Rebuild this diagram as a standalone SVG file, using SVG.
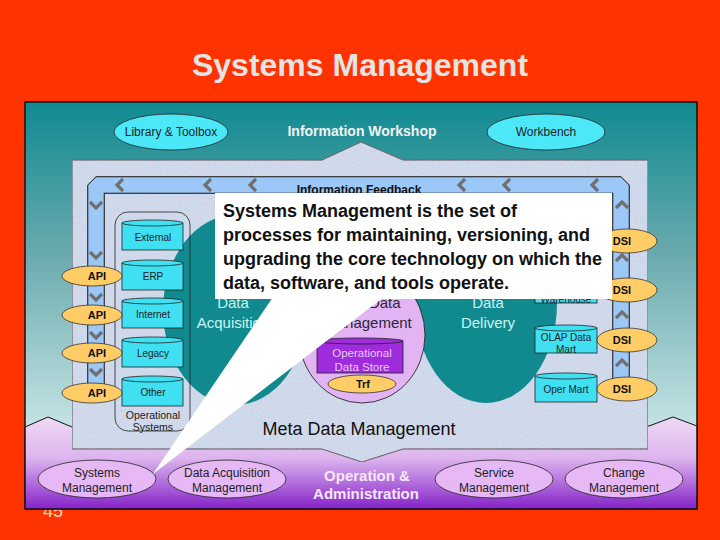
<svg xmlns="http://www.w3.org/2000/svg" width="720" height="540" viewBox="0 0 720 540">
<defs>
<linearGradient id="gTeal" x1="0" y1="102" x2="0" y2="440" gradientUnits="userSpaceOnUse">
<stop offset="0" stop-color="#0F8A91"/><stop offset="0.45" stop-color="#6AAAAE"/><stop offset="1" stop-color="#CBE8E8"/>
</linearGradient>
<linearGradient id="gPurple" x1="0" y1="417" x2="0" y2="509" gradientUnits="userSpaceOnUse">
<stop offset="0" stop-color="#EEDAF4"/><stop offset="0.45" stop-color="#DDB4EE"/><stop offset="1" stop-color="#8422C8"/>
</linearGradient>
<filter id="tex" x="0" y="0" width="100%" height="100%">
<feTurbulence type="fractalNoise" baseFrequency="0.6" numOctaves="2" seed="4" result="n"/>
<feColorMatrix in="n" type="matrix" values="1.2 0 0 0 0.1  0 0.5 0 0 0.35  0 0 0.8 0 0.3  0 0 0 0 0.25" result="c"/>
<feComposite in="c" in2="SourceGraphic" operator="in" result="m"/>
<feMerge><feMergeNode in="SourceGraphic"/><feMergeNode in="m"/></feMerge>
</filter>
<path id="chL" d="M3,-6 L-3,0 L3,6"/>
<path id="chD" d="M-6,-3 L0,3 L6,-3"/>
<path id="chU" d="M-6,3 L0,-3 L6,3"/>
</defs>
<style>
.t{font-family:"Liberation Sans",Arial,sans-serif;text-anchor:middle}
.cyl{fill:#3EE0F2;stroke:#222;stroke-width:0.8}
.orange{fill:#FFCC66;stroke:#333;stroke-width:0.8}
.lav{fill:#E6B8F6;stroke:#222;stroke-width:0.8}
.chev{fill:none;stroke:#707070;stroke-width:3.2}
.small{font-size:10px;fill:#222}
.bold11{font-size:11px;font-weight:bold;fill:#111}
.ell12{font-size:12px;fill:#222}
.big{font-size:15px;fill:#C8F4F4}
</style>
<rect x="0" y="0" width="720" height="540" fill="#FF3300"/>
<text class="t" x="53" y="517" font-size="18" fill="#FFD8BC">45</text>
<text class="t" x="360" y="76" font-size="32" font-weight="bold" fill="#E4E4E4">Systems Management</text>

<g id="panel">
<rect x="25" y="102" width="672" height="407" fill="url(#gTeal)" stroke="#111" stroke-width="1"/>
<polygon points="25,427 48,417 72,427 649,426 673,417 697,426 697,509 25,509" fill="url(#gPurple)" stroke="#111" stroke-width="1"/>
<rect x="25" y="102" width="672" height="407" fill="none" stroke="#111" stroke-width="1"/>
<polygon points="72,160 322,160 361,142 403,160 648,160 648,449 403,449 362,462 322,449 72,449" fill="#CCDDF0" stroke="#111" stroke-width="1" filter="url(#tex)"/>
</g>

<g id="feedback">
<path d="M96,400 V185 H621 V390" fill="none" stroke="#111" stroke-width="17.5" stroke-linejoin="bevel"/>
<path d="M96,401 V185 H621 V391" fill="none" stroke="#9CC8F8" stroke-width="15.5" stroke-linejoin="bevel"/>
<g class="chev">
<use href="#chL" x="120" y="185"/><use href="#chL" x="208" y="185"/><use href="#chL" x="253" y="185"/>
<use href="#chL" x="462" y="185"/><use href="#chL" x="507" y="185"/><use href="#chL" x="595" y="185"/>
<use href="#chD" x="96" y="205"/><use href="#chD" x="96" y="255"/><use href="#chD" x="96" y="297"/><use href="#chD" x="96" y="335"/><use href="#chD" x="96" y="372"/>
<use href="#chU" x="622" y="205"/><use href="#chU" x="622" y="258"/><use href="#chU" x="622" y="315"/><use href="#chU" x="622" y="363"/>
</g>
<text class="t" x="359" y="194" font-size="12" font-weight="bold" fill="#111">Information Feedback</text>
</g>

<g id="data-acquisition">
<ellipse cx="235" cy="310" rx="72" ry="95" fill="#108A8E"/>
<text class="t big" x="233" y="308">Data</text>
<text class="t big" x="233" y="328">Acquisition</text>
</g>
<g id="data-delivery">
<ellipse cx="486" cy="303" rx="71" ry="100" fill="#108A8E"/>
<text class="t big" x="488" y="308">Data</text>
<text class="t big" x="488" y="328">Delivery</text>
</g>
<g id="meta-data-management">
<ellipse cx="362" cy="335" rx="63" ry="68" fill="#E2B4F4" stroke="#111" stroke-width="0.8"/>
<text class="t" x="366" y="308" font-size="15" fill="#2A2A3A">Meta Data</text>
<text class="t" x="368" y="328" font-size="15" fill="#2A2A3A">Management</text>
</g>
<g id="ods">
<rect x="317" y="341" width="86" height="32" fill="#9E2CDC" stroke="#222" stroke-width="0.8"/>
<ellipse cx="360" cy="341" rx="43" ry="3" fill="#9E2CDC" stroke="#222" stroke-width="0.8"/>
<text class="t" x="362" y="357" font-size="11.5" fill="#EAC8FA">Operational</text>
<text class="t" x="362" y="371" font-size="11.5" fill="#EAC8FA">Data Store</text>
</g>
<g id="trf">
<ellipse class="orange" cx="362" cy="384" rx="34" ry="9"/>
<text class="t bold11" x="363" y="388">Trf</text>
</g>

<g id="operational-systems">
<rect x="115" y="212" width="75" height="219" rx="13" fill="none" stroke="#222" stroke-width="0.8"/>
<text class="t" x="153" y="419" font-size="10.5" fill="#222">Operational</text>
<text class="t" x="153" y="431" font-size="10.5" fill="#222">Systems</text>
</g>
<g id="external"><rect class="cyl" x="122" y="223" width="61" height="27"/><ellipse class="cyl" cx="152.5" cy="223" rx="30.5" ry="3"/><text class="t small" x="153" y="241">External</text></g>
<g id="erp"><rect class="cyl" x="122" y="263" width="61" height="27"/><ellipse class="cyl" cx="152.5" cy="263" rx="30.5" ry="3"/><text class="t small" x="153" y="280">ERP</text></g>
<g id="internet"><rect class="cyl" x="122" y="301" width="61" height="27"/><ellipse class="cyl" cx="152.5" cy="301" rx="30.5" ry="3"/><text class="t small" x="153" y="318">Internet</text></g>
<g id="legacy"><rect class="cyl" x="122" y="340" width="61" height="27"/><ellipse class="cyl" cx="152.5" cy="340" rx="30.5" ry="3"/><text class="t small" x="153" y="357">Legacy</text></g>
<g id="other"><rect class="cyl" x="122" y="379" width="61" height="27"/><ellipse class="cyl" cx="152.5" cy="379" rx="30.5" ry="3"/><text class="t small" x="153" y="396">Other</text></g>

<g id="api1"><ellipse class="orange" cx="92" cy="276" rx="30" ry="10"/><text class="t bold11" x="97" y="280">API</text></g>
<g id="api2"><ellipse class="orange" cx="92" cy="315" rx="30" ry="10"/><text class="t bold11" x="97" y="319">API</text></g>
<g id="api3"><ellipse class="orange" cx="92" cy="353" rx="30" ry="10"/><text class="t bold11" x="97" y="357">API</text></g>
<g id="api4"><ellipse class="orange" cx="92" cy="393" rx="30" ry="10"/><text class="t bold11" x="97" y="397">API</text></g>

<g id="warehouse"><rect class="cyl" x="535" y="272" width="62" height="31"/><ellipse class="cyl" cx="566" cy="272" rx="31" ry="3"/><text class="t small" x="566" y="303">Warehouse</text></g>
<g id="olap"><rect class="cyl" x="535" y="328" width="62" height="25"/><ellipse class="cyl" cx="566" cy="328" rx="31" ry="3"/><text class="t small" x="566" y="341">OLAP Data</text><text class="t small" x="566" y="353">Mart</text></g>
<g id="oper-mart"><rect class="cyl" x="535" y="376" width="62" height="26"/><ellipse class="cyl" cx="566" cy="376" rx="31" ry="3"/><text class="t small" x="566" y="393">Oper Mart</text></g>

<g id="dsi1"><ellipse class="orange" cx="627" cy="241" rx="30" ry="12"/><text class="t bold11" x="622" y="245">DSI</text></g>
<g id="dsi2"><ellipse class="orange" cx="627" cy="290" rx="30" ry="12"/><text class="t bold11" x="622" y="294">DSI</text></g>
<g id="dsi3"><ellipse class="orange" cx="627" cy="340" rx="30" ry="12"/><text class="t bold11" x="622" y="344">DSI</text></g>
<g id="dsi4"><ellipse class="orange" cx="627" cy="389" rx="30" ry="12"/><text class="t bold11" x="622" y="393">DSI</text></g>

<g id="library-toolbox"><ellipse cx="171" cy="132" rx="57" ry="18" fill="#4CE8F8" stroke="#222" stroke-width="0.8"/><text class="t ell12" x="171" y="136">Library &amp; Toolbox</text></g>
<g id="workbench"><ellipse cx="546" cy="132" rx="59" ry="18" fill="#4CE8F8" stroke="#222" stroke-width="0.8"/><text class="t ell12" x="546" y="136">Workbench</text></g>
<text class="t" x="362" y="136" font-size="14" font-weight="bold" fill="#F2F2F2">Information Workshop</text>

<text class="t" x="359" y="435" font-size="18" fill="#111">Meta Data Management</text>

<g id="systems-management"><ellipse class="lav" cx="97" cy="479" rx="59" ry="19"/><text class="t ell12" x="97" y="477">Systems</text><text class="t ell12" x="97" y="492">Management</text></g>
<g id="data-acquisition-management"><ellipse class="lav" cx="227" cy="479" rx="59" ry="19"/><text class="t ell12" x="227" y="477">Data Acquisition</text><text class="t ell12" x="227" y="492">Management</text></g>
<g id="operation-administration"><text class="t" x="367" y="481" font-size="15" font-weight="bold" fill="#F6E8FA">Operation &amp;</text><text class="t" x="366" y="499" font-size="15" font-weight="bold" fill="#F6E8FA">Administration</text></g>
<g id="service-management"><ellipse class="lav" cx="494" cy="479" rx="59" ry="19"/><text class="t ell12" x="494" y="477">Service</text><text class="t ell12" x="494" y="492">Management</text></g>
<g id="change-management"><ellipse class="lav" cx="624" cy="479" rx="59" ry="19"/><text class="t ell12" x="624" y="477">Change</text><text class="t ell12" x="624" y="492">Management</text></g>

<g id="callout">
<polygon points="273,297 384,297 153,474" fill="#FFFFFF"/>
<rect x="215" y="193" width="397" height="106" fill="#FFFFFF"/>
<g font-family="Liberation Sans, Arial, sans-serif" font-size="18" font-weight="bold" fill="#111">
<text x="223" y="217">Systems Management is the set of</text>
<text x="223" y="241">processes for maintaining, versioning, and</text>
<text x="223" y="265">upgrading the core technology on which the</text>
<text x="223" y="289">data, software, and tools operate.</text>
</g>
</g>
</svg>
